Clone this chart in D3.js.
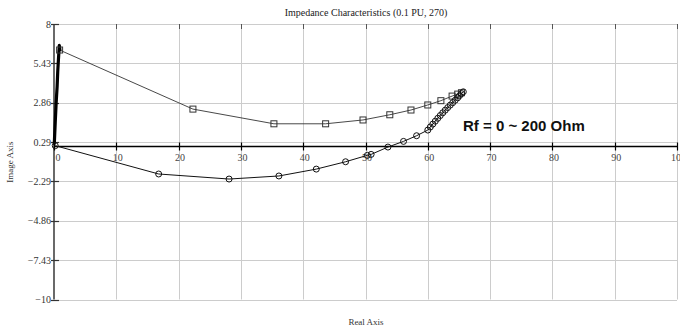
<!DOCTYPE html>
<html>
<head>
<meta charset="utf-8">
<script src="https://cdn.jsdelivr.net/npm/d3@7"></script>
<style>
  body { margin: 0; background: #fff; }
  svg { display: block; }
</style>
</head>
<body>
<script>
// Impedance trajectory data (real, imaginary)
const xTicks = [0, 10, 20, 30, 40, 50, 60, 70, 80, 90, 100];
const yTicks = [8, 5.43, 2.86, 0.29, -2.29, -4.86, -7.43, -10];
const yTickLabels = ["8", "5.43", "2.86", "0.29", "\u22122.29", "\u22124.86", "\u22127.43", "\u221210"];

// Dense start of the trajectory near the origin (drawn as a heavy trace)
const traceStart = [[0.05, 0.2], [0.2, 1.6], [0.35, 2.9], [0.5, 3.9], [0.6, 4.9], [0.7, 5.6], [0.85, 6.6], [0.95, 6.3]];
// Square-marked series
const squareSeries = [[0.9, 6.3], [22.3, 2.44], [35.3, 1.48], [43.6, 1.48], [49.6, 1.73], [53.9, 2.07], [57.3, 2.38], [60.0, 2.71], [62.1, 2.99], [63.9, 3.29], [64.8, 3.42], [65.4, 3.51]];
// Circle-marked series
const circleSeries = [[0.2, 0.05], [16.8, -1.80], [28.1, -2.13], [36.1, -1.93], [42.1, -1.48], [46.8, -1.0], [50.3, -0.58], [50.9, -0.52], [53.6, -0.04], [56.1, 0.33], [58.2, 0.70], [60.0, 1.07], [60.4, 1.27], [60.8, 1.46], [61.2, 1.65], [61.6, 1.84], [62.0, 2.02], [62.4, 2.2], [62.8, 2.37], [63.2, 2.54], [63.6, 2.7], [64.0, 2.86], [64.4, 3.02], [64.8, 3.18], [65.1, 3.32], [65.4, 3.45], [65.7, 3.57]];

const W = 680, H = 331;
const svg = d3.select("body").append("svg").attr("width", W).attr("height", H);

const x = d3.scaleLinear().domain([0, 100]).range([54, 677]);
const y = d3.scaleLinear().domain([-10, 8]).range([299.5, 24]);

const serif = "'Liberation Serif', 'Times New Roman', serif";

// Grid
const grid = svg.append("g").attr("stroke", "#cccccc").attr("stroke-width", 1);
grid.selectAll("line.v").data(xTicks.filter(d => d > 0)).join("line")
  .attr("x1", d => Math.round(x(d)) + 0.5).attr("x2", d => Math.round(x(d)) + 0.5)
  .attr("y1", y(8)).attr("y2", y(-10));
grid.selectAll("line.h").data(yTicks).join("line")
  .attr("x1", x(0)).attr("x2", x(100))
  .attr("y1", d => Math.round(y(d)) + 0.5).attr("y2", d => Math.round(y(d)) + 0.5);

// Top ticks
svg.append("g").attr("stroke", "#555").selectAll("line").data(xTicks.filter(d => d > 0)).join("line")
  .attr("x1", d => Math.round(x(d)) + 0.5).attr("x2", d => Math.round(x(d)) + 0.5)
  .attr("y1", y(8)).attr("y2", y(8) + 5);

// Y axis (left)
svg.append("line").attr("x1", x(0)).attr("x2", x(0)).attr("y1", y(8)).attr("y2", y(-10))
  .attr("stroke", "#444").attr("stroke-width", 1.6);
const yg = svg.append("g");
yg.selectAll("line").data(yTicks).join("line")
  .attr("x1", x(0) - 3).attr("x2", x(0) + 5)
  .attr("y1", d => Math.round(y(d)) + 0.5).attr("y2", d => Math.round(y(d)) + 0.5)
  .attr("stroke", "#333").attr("stroke-width", 1.2);
yg.selectAll("text").data(yTicks).join("text")
  .attr("x", x(0) - 3).attr("y", d => y(d) + 3.5)
  .attr("text-anchor", "end").attr("font-family", serif).attr("font-size", 10).attr("fill", "#333")
  .text((d, i) => yTickLabels[i]);

// X axis at zero
const y0 = Math.round(y(0)) + 0.5;
svg.append("line").attr("x1", x(0)).attr("x2", x(100)).attr("y1", y0).attr("y2", y0)
  .attr("stroke", "#000").attr("stroke-width", 1.3);
const xg = svg.append("g");
xg.selectAll("line").data(xTicks).join("line")
  .attr("x1", d => Math.round(x(d)) + 0.5).attr("x2", d => Math.round(x(d)) + 0.5)
  .attr("y1", y0 - 4).attr("y2", y0 + 4)
  .attr("stroke", "#000").attr("stroke-width", 1.2);
xg.selectAll("text").data(xTicks).join("text")
  .attr("x", d => x(d) + (d === 0 ? 4 : 1.5)).attr("y", y0 + 14)
  .attr("text-anchor", "middle").attr("font-family", serif).attr("font-size", 10).attr("fill", "#444")
  .text(d => d);

// Series lines
const line = d3.line().x(d => x(d[0])).y(d => y(d[1]));
svg.append("path").datum(squareSeries).attr("d", line)
  .attr("fill", "none").attr("stroke", "#333").attr("stroke-width", 0.9);
svg.append("path").datum(circleSeries).attr("d", line)
  .attr("fill", "none").attr("stroke", "#111").attr("stroke-width", 1);
svg.append("path").datum(traceStart).attr("d", line)
  .attr("fill", "none").attr("stroke", "#000").attr("stroke-width", 3.2)
  .attr("stroke-linejoin", "round").attr("stroke-linecap", "round");

// Markers
svg.append("g").selectAll("rect").data(squareSeries).join("rect")
  .attr("x", d => x(d[0]) - 3).attr("y", d => y(d[1]) - 3)
  .attr("width", 6).attr("height", 6)
  .attr("fill", "none").attr("stroke", "#333").attr("stroke-width", 1);
svg.append("g").selectAll("circle").data(circleSeries).join("circle")
  .attr("cx", d => x(d[0])).attr("cy", d => y(d[1])).attr("r", 3)
  .attr("fill", "none").attr("stroke", "#111").attr("stroke-width", 1);

// Titles
svg.append("text").attr("x", 366).attr("y", 16).attr("text-anchor", "middle")
  .attr("font-family", serif).attr("font-size", 10).attr("fill", "#222")
  .text("Impedance Characteristics (0.1 PU, 270)");
svg.append("text").attr("x", 366).attr("y", 325).attr("text-anchor", "middle")
  .attr("font-family", serif).attr("font-size", 9).attr("fill", "#333")
  .text("Real Axis");
svg.append("text").attr("transform", "translate(13,162) rotate(-90)").attr("text-anchor", "middle")
  .attr("font-family", serif).attr("font-size", 9).attr("fill", "#333")
  .text("Image Axis");

// Annotation
svg.append("text").attr("x", 463).attr("y", 131)
  .attr("font-family", "'Liberation Sans', Arial, sans-serif").attr("font-weight", "bold")
  .attr("font-size", 15).attr("fill", "#111")
  .text("Rf = 0 ~ 200 Ohm");
</script>
</body>
</html>
